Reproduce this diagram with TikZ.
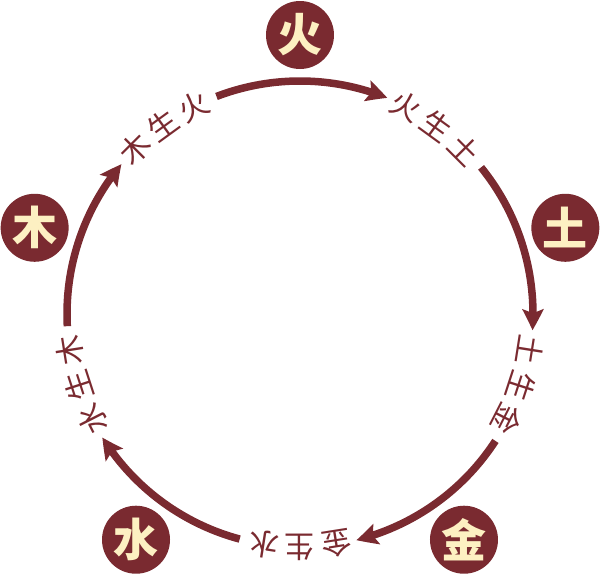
\documentclass[tikz,border=0pt]{standalone}
\usepackage{fontspec}
\newfontfamily\cjk{Noto Sans CJK SC}
\usepackage{tikz}
\usetikzlibrary{arrows.meta,bending}
\definecolor{ringred}{HTML}{7A2A30}
\definecolor{cream}{HTML}{FDF0C2}

\begin{document}
\begin{tikzpicture}[x=1pt,y=1pt,
        elem/.style={circle, fill=ringred, minimum size=68pt, inner sep=0pt,
            text=cream, font=\cjk\bfseries\fontsize{45}{45}\selectfont},
        glyph/.style={text=ringred, inner sep=0pt,
            font=\cjk\fontsize{30}{30}\selectfont},
        flow/.style={draw=ringred, line width=7.5pt,
            -{Stealth[length=21pt,width=21pt,inset=4pt,bend]}}
    ]
        \useasboundingbox (-300,-260) rectangle (300,314);
        \node[elem] (huo) at (90:279) {火};
        \node[elem] (tu) at (18:279) {土};
        \node[elem] (jin) at (-54:279) {金};
        \node[elem] (shui) at (-126:279) {水};
        \node[elem] (mu) at (162:279) {木};
        % text along the ring, then the arrow to the next text
        \foreach \ang/\a/\b/\c [count=\i] in {126/木/生/火, 54/火/生/土, -18/土/生/金, -90/金/生/水, -162/水/生/木}{
            \node[glyph, rotate=\ang-81] (t\i a) at ({\ang+9}:233) {\a};
            \node[glyph, rotate=\ang-90] (t\i b) at (\ang:233) {\b};
            \node[glyph, rotate=\ang-99] (t\i c) at ({\ang-9}:233) {\c};
            \coordinate (s\i) at ({\ang-15}:233);
            \draw[flow] (s\i) arc[start angle=\ang-15, end angle=\ang-58, radius=233];
        }
    \end{tikzpicture}
\end{document}
